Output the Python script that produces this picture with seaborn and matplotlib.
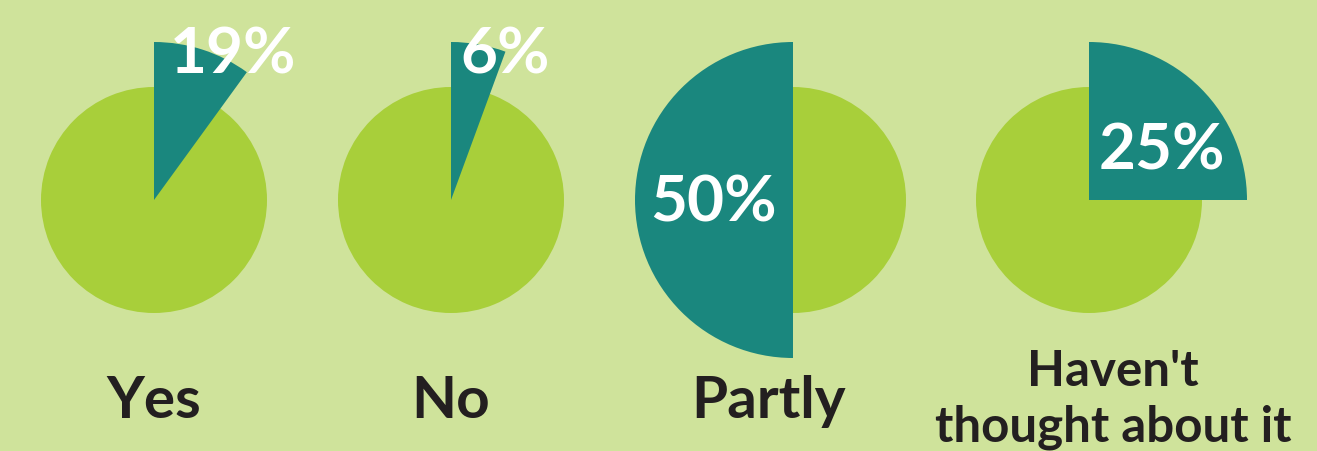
import matplotlib
matplotlib.use("Agg")
import matplotlib.pyplot as plt
import seaborn as sns

# ---- data ----
categories = ["Yes", "No", "Partly", "Haven't\nthought about it"]
pct_labels = ["19%", "6%", "50%", "25%"]
# wedge share as drawn in the picture (percent of a full circle)
wedge_share = [10, 5.6, 50, 25]

# ---- style ----
W, H = 1317, 451
BG = "#cfe39b"
BASE = "#a8cf3a"
TEAL = "#1a877e"
TEXT = "#231f20"

sns.set_theme(style="white", rc={"figure.facecolor": BG, "axes.facecolor": BG})
plt.rcParams["font.family"] = ["Lato", "DejaVu Sans"]

centers_x = [154, 451, 793, 1089]
center_y = 200
r_base = 113
r_wedge = 158
counterclock = [False, False, True, False]
cat_x = [154, 451, 768, 1113]
cat_y = [418, 418, 418, 442]
cat_size = [42, 42, 42, 35.5]
pct_pos = [(233, 74), (505, 74), (713, 221), (1162, 170)]

fig = plt.figure(figsize=(W / 100, H / 100), dpi=100, facecolor=BG)
ax = fig.add_axes([0, 0, 1, 1])
ax.set_facecolor(BG)

for i, cat in enumerate(categories):
    cx, cy = centers_x[i], H - center_y
    ax.pie([1], radius=r_base, center=(cx, cy), colors=[BASE],
           wedgeprops=dict(linewidth=0))
    share = wedge_share[i]
    ax.pie([share, 100 - share], radius=r_wedge, center=(cx, cy),
           startangle=90, counterclock=counterclock[i],
           colors=[TEAL, (0, 0, 0, 0)], wedgeprops=dict(linewidth=0))
    px, py = pct_pos[i]
    ax.text(px, H - py, pct_labels[i], color="white", fontsize=46,
            fontweight="bold", ha="center", va="baseline")
    ax.text(cat_x[i], H - cat_y[i], cat, color=TEXT, fontsize=cat_size[i],
            fontweight="bold", ha="center", va="baseline",
            linespacing=1.3)

ax.set_xlim(0, W)
ax.set_ylim(0, H)
ax.set_aspect("equal")
ax.axis("off")

fig.savefig("out.png", dpi=100, facecolor=BG)
